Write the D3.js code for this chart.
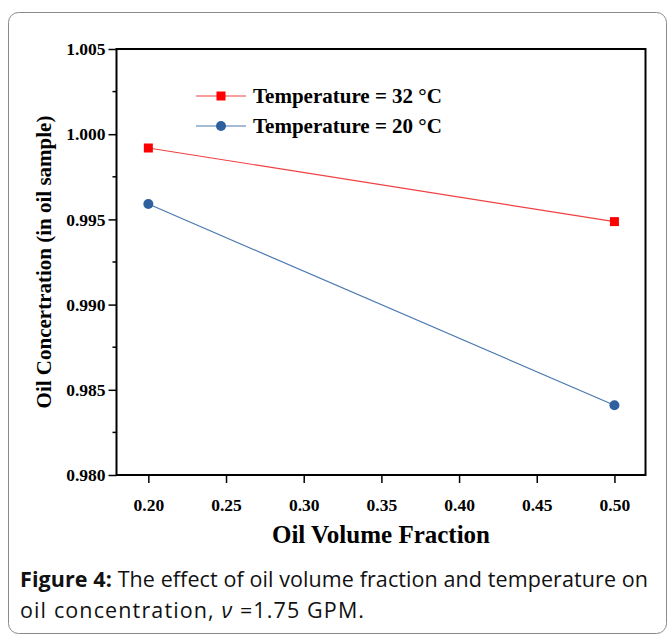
<!DOCTYPE html>
<html>
<head>
<meta charset="utf-8">
<script src="https://cdn.jsdelivr.net/npm/d3@7"></script>
<style>
  body { margin: 0; background: #fff; overflow: hidden; }
</style>
</head>
<body>
<svg id="main-svg" width="669" height="639"></svg>
<script>
'use strict';

// data
const fractions = [0.20, 0.50];
const temp32 = [0.99919, 0.99487];
const temp20 = [0.99590, 0.98409];
const series_names = ['Temperature = 32 °C', 'Temperature = 20 °C'];
const x_ticks = [0.20, 0.25, 0.30, 0.35, 0.40, 0.45, 0.50];
const y_ticks = [0.980, 0.985, 0.990, 0.995, 1.000, 1.005];

const colors = {
    red: '#ff0000',
    red_line: '#f04040',
    blue: '#2e5f9e',
    blue_line: '#4a78b0',
    border: '#8a8a8a',
};

const svg = d3.select('#main-svg');
const serif = '"Liberation Serif", "Times New Roman", serif';
const sans = '"Open Sans", "Noto Sans", sans-serif';

// outer rounded frame
svg.append('rect')
    .attr('x', 8.5).attr('y', 12.5)
    .attr('width', 658).attr('height', 621)
    .attr('rx', 10)
    .attr('fill', 'none')
    .attr('stroke', colors.border)
    .attr('stroke-width', 1);

const plot = {left: 116.5, right: 645.5, top: 49, bottom: 475};

const x = d3.scaleLinear().domain([0.1795, 0.52]).range([plot.left, plot.right]);
const y = d3.scaleLinear().domain([0.980, 1.005]).range([plot.bottom, plot.top]);

// x axis
const x_axis = svg.append('g')
    .attr('transform', `translate(0,${plot.bottom})`)
    .call(d3.axisBottom(x).tickValues(x_ticks).tickFormat(d3.format('.2f')).tickSize(8).tickSizeOuter(0));
x_axis.select('.domain').remove();
x_axis.selectAll('line').attr('stroke', '#000').attr('stroke-width', 1.5);
x_axis.selectAll('text')
    .attr('font-family', serif).attr('font-weight', 'bold').attr('font-size', 17.5)
    .attr('fill', '#000').attr('dy', '1.45em');

// y axis, major + minor
const y_axis = svg.append('g')
    .attr('transform', `translate(${plot.left},0)`)
    .call(d3.axisLeft(y).tickValues(y_ticks).tickFormat(d3.format('.3f')).tickSize(8).tickSizeOuter(0));
y_axis.select('.domain').remove();
y_axis.selectAll('line').attr('stroke', '#000').attr('stroke-width', 1.5);
y_axis.selectAll('text')
    .attr('font-family', serif).attr('font-weight', 'bold').attr('font-size', 17.5)
    .attr('fill', '#000').attr('x', -11);

const minor = d3.range(0, y_ticks.length - 1).map(i => (y_ticks[i] + y_ticks[i + 1]) / 2);
svg.append('g').selectAll('line')
    .data(minor)
    .enter().append('line')
    .attr('x1', plot.left - 4).attr('x2', plot.left)
    .attr('y1', d => y(d)).attr('y2', d => y(d))
    .attr('stroke', '#000').attr('stroke-width', 1.5);

// box around plot
svg.append('rect')
    .attr('x', plot.left).attr('y', plot.top)
    .attr('width', plot.right - plot.left).attr('height', plot.bottom - plot.top)
    .attr('fill', 'none').attr('stroke', '#000').attr('stroke-width', 2);

// lines and markers
const line = d3.line().x(d => x(d[0])).y(d => y(d[1]));
const pts32 = fractions.map((f, i) => [f, temp32[i]]);
const pts20 = fractions.map((f, i) => [f, temp20[i]]);

svg.append('path').datum(pts32).attr('d', line)
    .attr('fill', 'none').attr('stroke', colors.red_line).attr('stroke-width', 1.2);
svg.append('path').datum(pts20).attr('d', line)
    .attr('fill', 'none').attr('stroke', colors.blue_line).attr('stroke-width', 1.2);

svg.append('g').selectAll('rect')
    .data(pts32)
    .enter().append('rect')
    .attr('x', d => x(d[0]) - 4.5).attr('y', d => y(d[1]) - 4.5)
    .attr('width', 9).attr('height', 9)
    .attr('fill', colors.red);

svg.append('g').selectAll('circle')
    .data(pts20)
    .enter().append('circle')
    .attr('cx', d => x(d[0])).attr('cy', d => y(d[1]))
    .attr('r', 5)
    .attr('fill', colors.blue);

// legend
const legend = svg.append('g');
[[colors.red_line, colors.red, 'square', 96], [colors.blue_line, colors.blue, 'circle', 126]].forEach((s, i) => {
    const ly = s[3];
    legend.append('line')
        .attr('x1', 196).attr('x2', 246).attr('y1', ly).attr('y2', ly)
        .attr('stroke', s[0]).attr('stroke-width', 1.2);
    if (s[2] === 'square') {
        legend.append('rect').attr('x', 216.5).attr('y', ly - 4.5)
            .attr('width', 9).attr('height', 9).attr('fill', s[1]);
    } else {
        legend.append('circle').attr('cx', 221).attr('cy', ly).attr('r', 5).attr('fill', s[1]);
    }
    legend.append('text')
        .attr('x', 253).attr('y', ly + 7)
        .attr('font-family', serif).attr('font-weight', 'bold').attr('font-size', 21)
        .attr('fill', '#000')
        .text(series_names[i]);
});

// axis titles
svg.append('text')
    .attr('x', 381).attr('y', 543)
    .attr('text-anchor', 'middle')
    .attr('font-family', serif).attr('font-weight', 'bold').attr('font-size', 25)
    .text('Oil Volume Fraction');

svg.append('text')
    .attr('transform', 'translate(51,262) rotate(-90)')
    .attr('text-anchor', 'middle')
    .attr('font-family', serif).attr('font-weight', 'bold').attr('font-size', 21)
    .text('Oil Concertration (in oil sample)');

// caption
const cap1 = svg.append('text')
    .attr('x', 20).attr('y', 587)
    .attr('font-family', sans).attr('font-size', 21.5).attr('fill', '#111')
    .attr('textLength', 628).attr('lengthAdjust', 'spacing');
cap1.append('tspan').attr('font-weight', 'bold').text('Figure 4:');
cap1.append('tspan').text(' The effect of oil volume fraction and temperature on');

const cap2 = svg.append('text')
    .attr('x', 20).attr('y', 618)
    .attr('font-family', sans).attr('font-size', 21.5).attr('fill', '#111')
    .attr('textLength', 344).attr('lengthAdjust', 'spacing');
cap2.append('tspan').text('oil concentration, ');
cap2.append('tspan').attr('font-style', 'italic').text('ν');
cap2.append('tspan').text(' =1.75 GPM.');
</script>
</body>
</html>
